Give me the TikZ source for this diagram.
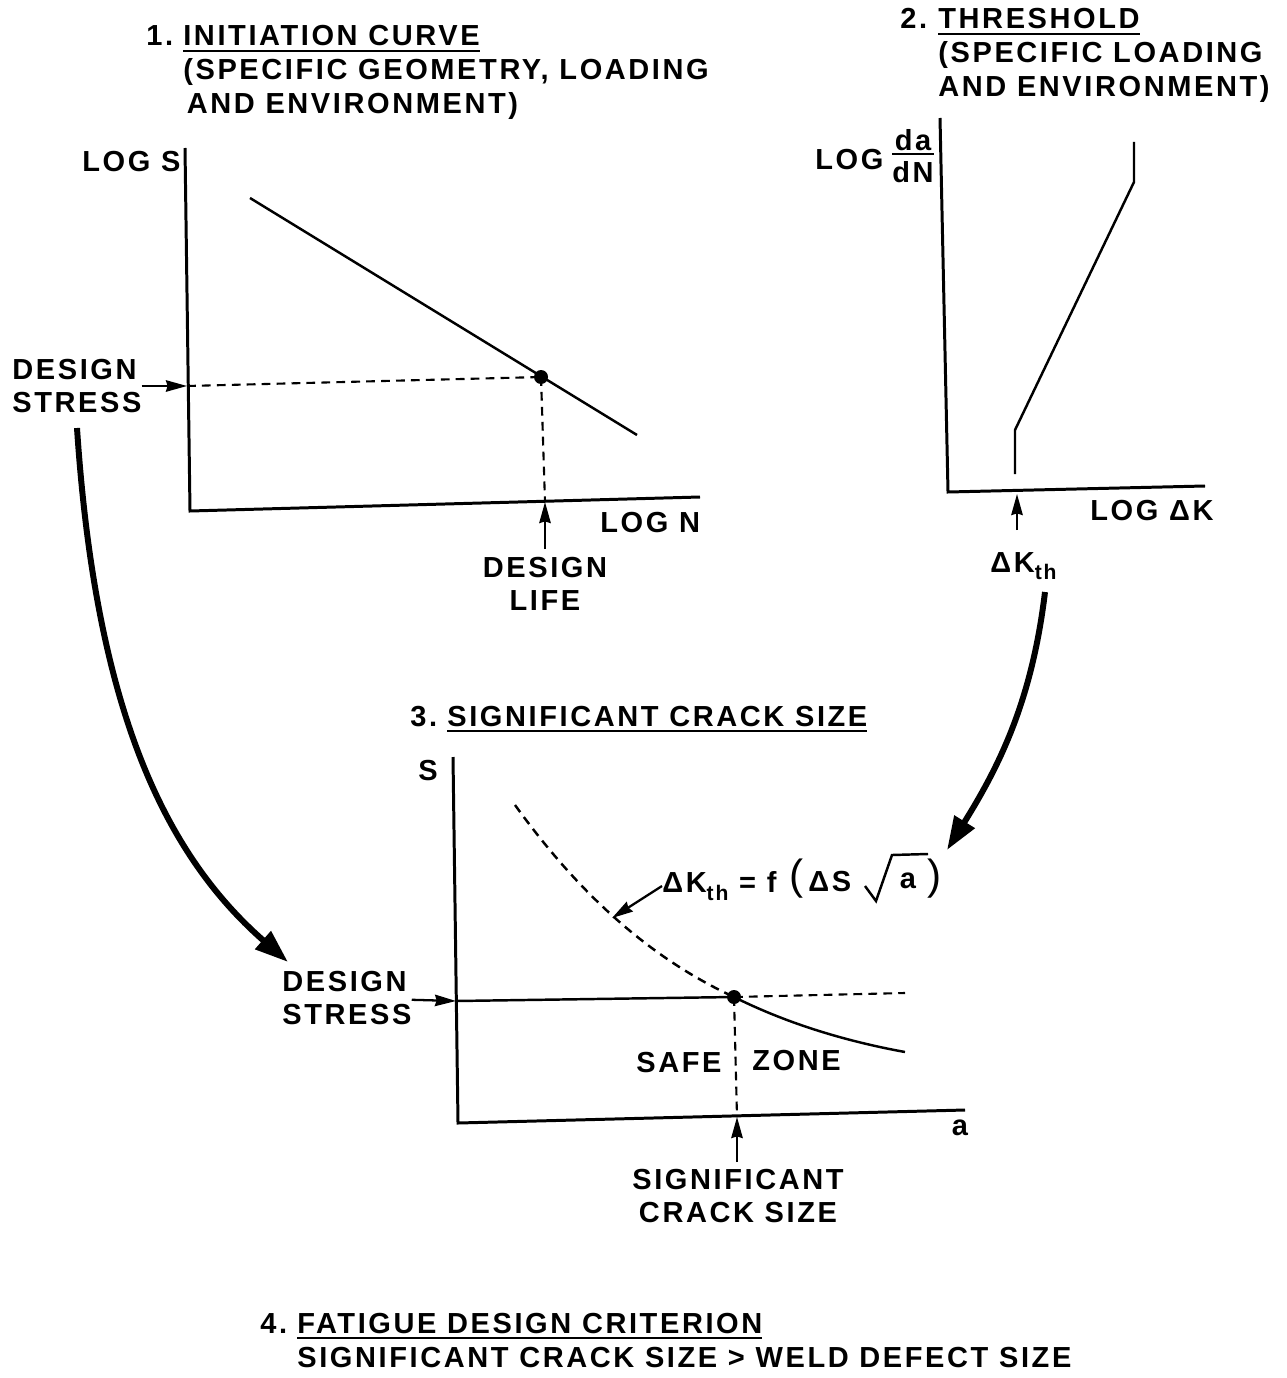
\documentclass[tikz,border=0pt]{standalone}
\usepackage{fontspec}
\newfontfamily\labfont{Liberation Sans}[LetterSpace=9]
\usetikzlibrary{arrows.meta}
\newcommand{\subth}{\raisebox{-0.5ex}{\fontsize{12}{12}\selectfont th}}
\newcommand{\myul}[1]{\setbox0\hbox{#1}\rlap{\rule[-3.5pt]{\wd0}{1pt}}\box0}
\begin{document}
\begin{tikzpicture}[x=0.02cm,y=-0.02cm,
  lbl/.style={font=\labfont\bfseries\fontsize{16.5}{18.5}\selectfont, inner sep=0pt},
  ttl/.style={font=\labfont\bfseries\fontsize{16.5}{19.2}\selectfont, inner sep=0pt, anchor=base west},
  paren/.style={font=\labfont\fontsize{24}{24}\selectfont, inner sep=0pt},
  axis/.style={line width=1.7pt},
  curve/.style={line width=1.4pt},
  dsh/.style={line width=1.2pt, dash pattern=on 5pt off 3.5pt},
  ul/.style={line width=1pt},
  thinarrow/.style={line width=1.3pt, -{Stealth[length=12pt,width=6.5pt,inset=1pt]}},
  bigarrow/.style={line width=3.4pt, -{Triangle[length=19pt,width=13pt]}},
  dot/.style={circle, fill, inner sep=0pt, minimum size=0.28cm},
]
\useasboundingbox (0,0) rectangle (1286,1378);

% ---------------- Panel 1 ----------------
\coordinate (o1) at (190,511);
\coordinate (y1) at (185,148);
\coordinate (x1) at (700,497);
\draw[axis] (y1) -- (o1) -- (x1);
\coordinate (l1a) at (250,198);
\coordinate (l1b) at (637,435);
\draw[curve] (l1a) -- (l1b);
\node[dot] (p1) at (541,377) {};
\coordinate (ds1) at (187,386);
\coordinate (dl1) at (545,502);
\draw[dsh] (ds1) -- (p1.center);
\draw[dsh] (p1.center) -- (dl1);

\node[ttl] (t1) at (146,46) {\begin{tabular}[t]{@{}p{0.74cm}@{}l@{}}
1. & \myul{INITIATION CURVE}\\
   & (SPECIFIC GEOMETRY, LOADING\\
   & \hspace{2pt}AND ENVIRONMENT)
\end{tabular}};

\node[lbl, anchor=west] (logs) at (82,162) {LOG S};
\node[lbl, anchor=west] (logn) at (600,523) {LOG N};
\node[lbl, align=left, anchor=west] (ds1t) at (12,386) {DESIGN\\STRESS};
\draw[thinarrow] (ds1t) -- (ds1);
\node[lbl, align=center] (dlife) at (545,584) {DESIGN\\LIFE};
\coordinate (dlb) at (545,549);
\draw[thinarrow] (dlb) -- (dl1);

% ---------------- Panel 2 ----------------
\coordinate (o2) at (948,492);
\coordinate (y2) at (940,118);
\coordinate (x2) at (1205,486);
\draw[axis] (y2) -- (o2) -- (x2);
\coordinate (c2a) at (1015,474);
\coordinate (c2b) at (1015,430);
\coordinate (c2c) at (1134,182);
\coordinate (c2d) at (1134,142);
\draw[curve] (c2a) -- (c2b) -- (c2c) -- (c2d);

\node[ttl] (t2) at (900,29) {\begin{tabular}[t]{@{}p{0.76cm}@{}l@{}}
2. & \myul{THRESHOLD}\\
   & (SPECIFIC LOADING\\
   & AND ENVIRONMENT)
\end{tabular}};

\node[lbl, anchor=west] (logda) at (815,160) {LOG};
\node[lbl] (da) at (913,140) {da};
\node[lbl] (dn) at (913,172) {dN};
\draw[ul] ([yshift=4pt]dn.north west) -- ([yshift=4pt]dn.north east);

\node[lbl, anchor=west] (logdk) at (1090,511) {LOG ΔK};
\node[lbl, anchor=west] (dkth) at (990,566) {ΔK\subth};
\coordinate (kth) at (1017,494);
\coordinate (kthb) at (1017,530);
\draw[thinarrow] (kthb) -- (kth);

% ---------------- Panel 3 ----------------
\coordinate (o3) at (458,1123);
\coordinate (y3) at (453,757);
\coordinate (x3) at (965,1110);
\draw[axis] (y3) -- (o3) -- (x3);
\node[dot] (p3) at (734,997) {};
\coordinate (c3a) at (515,805);
\coordinate (c3e) at (905,1052);
\draw[dsh, line width=1.4pt] (c3a) .. controls (580,895) and (650,958) .. (p3.center);
\draw[curve] (p3.center) .. controls (790,1025) and (850,1042) .. (c3e);
\coordinate (ds3) at (456,1001);
\draw[curve] (ds3) -- (p3.center);
\coordinate (h3e) at (905,993);
\draw[dsh] (p3.center) -- (h3e);
\coordinate (sc3) at (737,1117);
\draw[dsh] (p3.center) -- (sc3);
\coordinate (scb) at (737,1162);
\draw[thinarrow] (scb) -- (sc3);

\node[ttl] (t3) at (410,726) {\begin{tabular}[t]{@{}p{0.74cm}@{}l@{}}
3. & \myul{SIGNIFICANT CRACK SIZE}
\end{tabular}};
\node[lbl] (s3) at (428,771) {S};
\node[lbl] (a3) at (960,1128) {a};
\node[lbl, align=left, anchor=west] (ds3t) at (282,998) {DESIGN\\STRESS};
\draw[thinarrow] (ds3t) -- (ds3);
\node[lbl, anchor=west] (safe) at (636,1063) {SAFE};
\node[lbl, anchor=west] (zone) at (752,1061) {ZONE};
\node[lbl, align=center] (sct) at (738,1196) {SIGNIFICANT\\CRACK SIZE};

% equation Delta K_th = f ( Delta S sqrt(a) )
\node[lbl, anchor=west] (eq) at (662,886) {ΔK\subth{} = f};
\node[paren] (eqp1) at (797,879) {(};
\node[lbl, anchor=west] (eqds) at (808,882) {ΔS};
\node[lbl] (eqa) at (908,881) {a};
\node[paren] (eqp2) at (935,879) {)};
\coordinate (r1) at (865,886);
\coordinate (r2) at (876,901);
\coordinate (r3) at (892,855);
\coordinate (r4) at (928,854);
\draw[curve, line join=miter] (r1) -- (r2) -- (r3) -- (r4);
\coordinate (eqt) at (612,918);
\draw[thinarrow] (eq.west) -- (eqt);

% ---------------- Bottom ----------------
\node[ttl, font=\labfont\bfseries\fontsize{16.5}{19.5}\selectfont] (t4) at (260,1333) {\begin{tabular}[t]{@{}p{0.74cm}@{}l@{}}
4. & \myul{FATIGUE DESIGN CRITERION}\\
   & SIGNIFICANT CRACK SIZE > WELD DEFECT SIZE
\end{tabular}};

% ---------------- Big arrows ----------------
\coordinate (ba1s) at (77,428);
\coordinate (ba1e) at (288,962);
\draw[bigarrow] (ba1s) .. controls (95,700) and (160,850) .. (ba1e);
\coordinate (ba2s) at (1045,592);
\coordinate (ba2e) at (947,850);
\draw[bigarrow] (ba2s) .. controls (1032,700) and (1000,765) .. (ba2e);
\end{tikzpicture}
\end{document}
